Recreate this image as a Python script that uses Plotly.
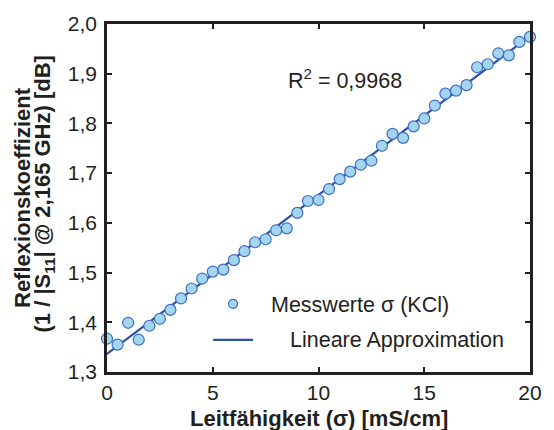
import numpy as np
import plotly.graph_objects as go

# Leitfähigkeit der KCl-Lösungen [mS/cm]
leitfaehigkeit = [0.0, 0.5, 1.0, 1.5, 2.0, 2.5, 3.0, 3.5, 4.0, 4.5,
                  5.0, 5.5, 6.0, 6.5, 7.0, 7.5, 8.0, 8.5, 9.0, 9.5,
                  10.0, 10.5, 11.0, 11.5, 12.0, 12.5, 13.0, 13.5, 14.0, 14.5,
                  15.0, 15.5, 16.0, 16.5, 17.0, 17.5, 18.0, 18.5, 19.0, 19.5, 20.0]

# Reflexionskoeffizient 1/|S11| bei 2,165 GHz [dB]
reflexion = [1.367, 1.355, 1.399, 1.365, 1.393, 1.407, 1.425, 1.448, 1.468, 1.488,
             1.502, 1.506, 1.525, 1.543, 1.561, 1.567, 1.585, 1.589, 1.620, 1.644,
             1.646, 1.668, 1.688, 1.703, 1.717, 1.725, 1.755, 1.779, 1.771, 1.794,
             1.810, 1.836, 1.860, 1.866, 1.877, 1.913, 1.919, 1.941, 1.937, 1.964, 1.974]

x_ticks = [0, 5, 10, 15, 20]
y_ticks = [1.3, 1.4, 1.5, 1.6, 1.7, 1.8, 1.9, 2.0]

r_squared_text = "R<sup>2</sup> = 0,9968"

# lineare Regression
slope, intercept = np.polyfit(leitfaehigkeit, reflexion, 1)
fit_x = [leitfaehigkeit[0], leitfaehigkeit[-1]]
fit_y = [intercept + slope * v for v in fit_x]

FONT = "Arial, Liberation Sans, Helvetica, sans-serif"
TEXT = "#231f20"
MARKER_FILL = "#a3d5ef"
MARKER_EDGE = "#3f6fc0"
LINE_COLOR = "#2d4fa6"

fig = go.Figure()

fig.add_trace(go.Scatter(
    x=fit_x, y=fit_y, mode="lines",
    line=dict(color=LINE_COLOR, width=2.2),
    showlegend=False, hoverinfo="skip",
))

fig.add_trace(go.Scatter(
    x=leitfaehigkeit, y=reflexion, mode="markers",
    marker=dict(size=11, color=MARKER_FILL, line=dict(color=MARKER_EDGE, width=1.2)),
    cliponaxis=False, showlegend=False,
))

axis_common = dict(
    showgrid=False, zeroline=False,
    showline=True, linecolor=TEXT, linewidth=2.5, mirror="ticks",
    ticks="inside", ticklen=5, tickwidth=1.5, tickcolor=TEXT,
    tickfont=dict(family=FONT, size=21, color=TEXT),
)

fig.update_xaxes(range=[0, 20], tickvals=x_ticks, **axis_common)
fig.update_yaxes(range=[1.3, 2.0], tickvals=y_ticks, tickformat=".1f",
                 ticklabelstandoff=3, **axis_common)

# Legende von Hand gesetzt
legend_shapes = [
    dict(type="circle", xref="paper", yref="paper",
         xsizemode="pixel", ysizemode="pixel",
         xanchor=0.298, yanchor=0.196, x0=-4.5, x1=4.5, y0=-4.5, y1=4.5,
         fillcolor=MARKER_FILL, line=dict(color=MARKER_EDGE, width=1.2)),
    dict(type="line", xref="paper", yref="paper",
         x0=0.251, x1=0.345, y0=0.0925, y1=0.0925,
         line=dict(color=LINE_COLOR, width=2.2)),
]

annotations = [
    dict(text=r_squared_text, xref="paper", yref="paper", x=0.563, y=0.842,
         xanchor="center", yanchor="middle", showarrow=False,
         font=dict(family=FONT, size=21.5, color=TEXT)),
    dict(text="Messwerte σ (KCl)", xref="paper", yref="paper", x=0.384, y=0.193,
         xanchor="left", yanchor="middle", showarrow=False,
         font=dict(family=FONT, size=21.5, color=TEXT)),
    dict(text="Lineare Approximation", xref="paper", yref="paper", x=0.428, y=0.0925,
         xanchor="left", yanchor="middle", showarrow=False,
         font=dict(family=FONT, size=21.5, color=TEXT)),
    dict(text="<b>Leitfähigkeit (σ) [mS/cm]</b>", xref="paper", yref="paper",
         x=0.5, y=0, yshift=-46, xanchor="center", yanchor="middle", showarrow=False,
         font=dict(family=FONT, size=22, color=TEXT)),
    dict(text="<b>Reflexionskoeffizient</b>", xref="paper", yref="paper",
         x=0, y=0.5, xshift=-85, textangle=-90, xanchor="center", yanchor="middle",
         showarrow=False, font=dict(family=FONT, size=22, color=TEXT)),
    dict(text="<b>(1 / |S<sub>11</sub>| @ 2,165 GHz) [dB]</b>", xref="paper", yref="paper",
         x=0, y=0.51, xshift=-63, textangle=-90, xanchor="center", yanchor="middle",
         showarrow=False, font=dict(family=FONT, size=22, color=TEXT)),
]

fig.update_layout(
    width=554, height=430,
    margin=dict(l=107, r=17, t=18, b=58),
    paper_bgcolor="white", plot_bgcolor="white",
    separators=",.",
    shapes=legend_shapes,
    annotations=annotations,
    font=dict(family=FONT, color=TEXT),
)

fig.write_html("out.html")
